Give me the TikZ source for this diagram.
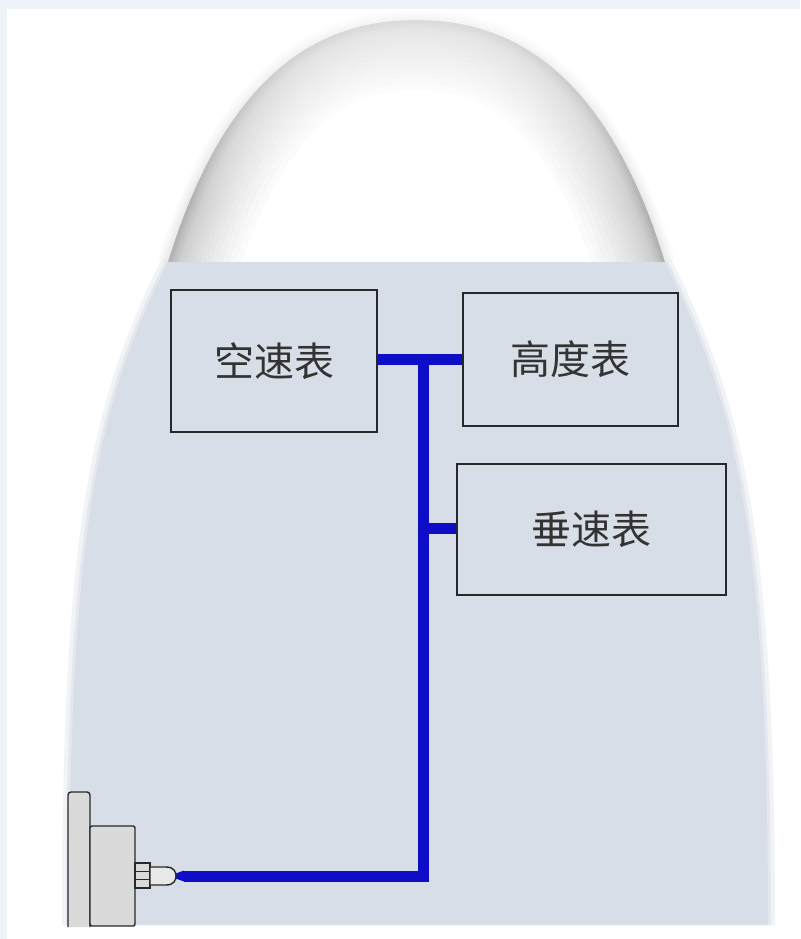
\documentclass[tikz,border=0pt]{standalone}
\usepackage{fontspec}
\newfontfamily\cjk{Noto Sans CJK SC}
\usetikzlibrary{fadings}
\definecolor{framebg}{RGB}{238,243,250}
\definecolor{bodyfill}{RGB}{216,222,231}
\definecolor{pipeblue}{RGB}{14,14,200}
\definecolor{outline}{RGB}{40,40,40}
\definecolor{portfill}{RGB}{218,218,218}
\definecolor{nosefill}{RGB}{232,232,232}
\tikzfading[name=fadedown, top color=transparent!0, bottom color=transparent!100]

\begin{document}
\begin{tikzpicture}[x=1pt,y=-1pt,
  gauge/.style={draw=outline, line width=1.8pt, rectangle, inner sep=0pt,
    font=\cjk\fontsize{40}{48}\selectfont, text=black!80},
  pipe/.style={draw=pipeblue, line width=11pt, line join=miter},
  part/.style={draw=outline, line width=1.4pt, fill=portfill}]

\useasboundingbox (0,0) rectangle (800,939);
% page and frame
\fill[white] (0,0) rectangle (800,939);
\fill[framebg] (0,0) rectangle (800,9);
\fill[framebg] (0,0) rectangle (7,939);

% nose dome, shaded towards its rim
\def\domecurve{(168,262) .. controls (230,60) and (330,20) .. (416,20) .. controls (502,20) and (603,60) .. (665,262)}
\begin{scope}
  \clip \domecurve -- cycle;
  \foreach \w in {140,128,116,104,93,82,72,62,53,44,36,28,21,14,8}
    \draw[black, opacity=0.016, line width=\w pt] \domecurve;
\end{scope}
\foreach \w in {20,14,9,5}
  \draw[black, opacity=0.02, line width=\w pt] \domecurve;
% lighter towards the apex
\fill[white, opacity=0.6, path fading=fadedown] (120,0) rectangle (720,210);
\fill[framebg] (0,0) rectangle (800,9);

% fuselage body with soft sides
\def\bodyleft{(69,925) .. controls (69,520) and (100,400) .. (168,262)}
\def\bodyright{(665,262) .. controls (733,400) and (768,520) .. (768,925)}
\draw[bodyfill, opacity=0.35, line width=14pt] \bodyleft;
\draw[bodyfill, opacity=0.35, line width=14pt] \bodyright;
\draw[bodyfill, opacity=0.5, line width=6pt] \bodyleft;
\draw[bodyfill, opacity=0.5, line width=6pt] \bodyright;
\fill[bodyfill] (168,262) -- (665,262) .. controls (733,400) and (768,520) .. (768,925)
  -- (69,925) .. controls (69,520) and (100,400) .. (168,262) -- cycle;

% instruments
\node[gauge, minimum width=206pt, minimum height=142pt] (asi) at (274,361) {空速表};
\node[gauge, minimum width=215pt, minimum height=133pt] (alt) at (570.5,359.5) {高度表};
\node[gauge, minimum width=269pt, minimum height=131pt] (vsi) at (591.5,529.5) {垂速表};

% static line
\coordinate (j1) at (423.5,359);
\coordinate (j2) at (423.5,528);
\coordinate (bend) at (423.5,876);
\coordinate (tip) at (184,876);
\draw[pipe] (asi.east |- j1) -- (alt.west |- j1);
\draw[pipe] (j1) -- (bend) -- (tip);
\draw[pipe] (j2) -- (vsi.west |- j2);
\fill[pipeblue] (173,874.5) -- (tip |- 0,870.5) -- (tip |- 0,881.5) -- (173,877.5) -- cycle;

% static port
\draw[part, rounded corners=3pt] (68,927) -- (68,792) -- (90,792) -- (90,927);
\draw[part, rounded corners=2pt] (90,926) -- (90,826) -- (135,826) -- (135,926) -- cycle;
\draw[part] (135,863) rectangle (150,888);
\draw[outline, line width=1.2pt] (135,871.3) -- (150,871.3) (135,879.6) -- (150,879.6);
\draw[part, fill=nosefill] (150,867) -- (166,867) .. controls (174,867) and (176,872) .. (176,876)
  .. controls (176,880) and (174,885) .. (166,885) -- (150,885) -- cycle;
\end{tikzpicture}
\end{document}
